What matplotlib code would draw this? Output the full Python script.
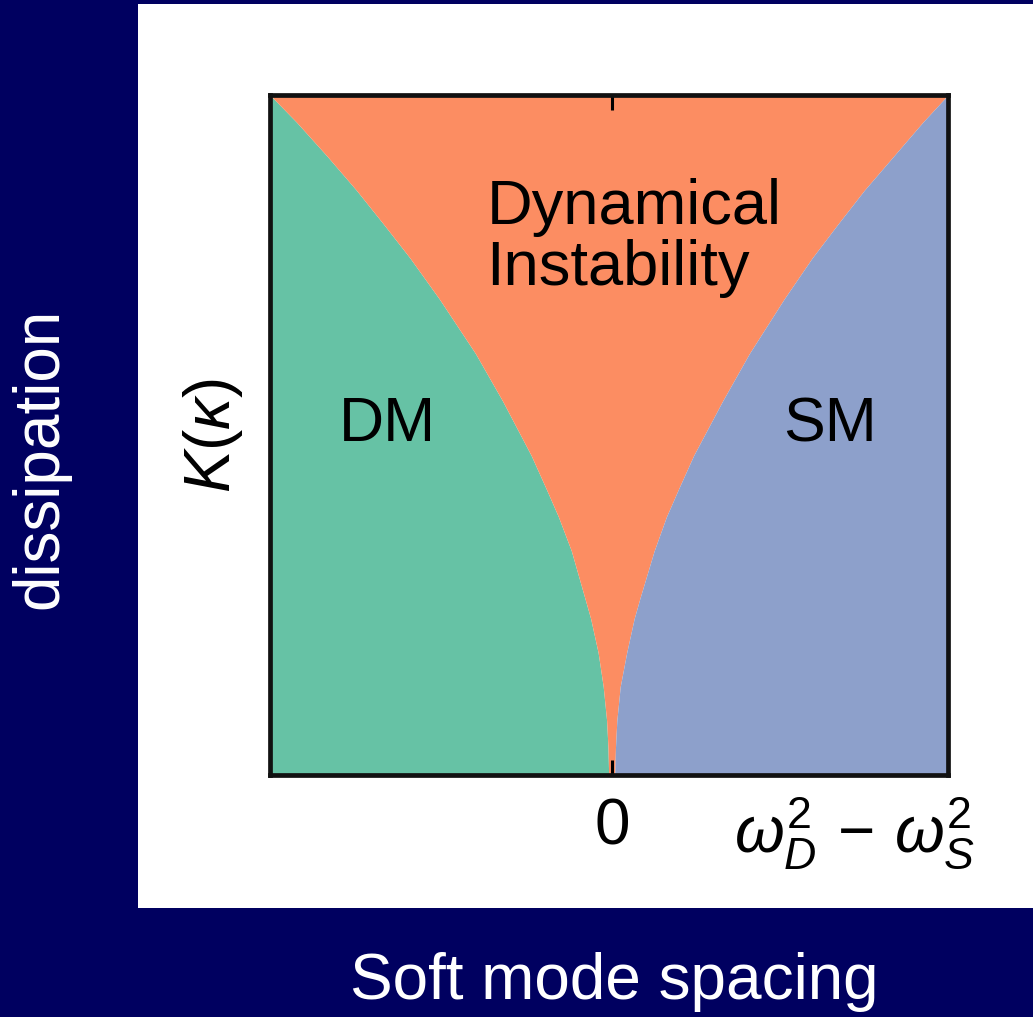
"""
Phase diagram: dissipation vs. soft mode spacing, with the dynamical
instability wedge between the DM and SM regions.
"""
import matplotlib
matplotlib.use("Agg")
import numpy as np
from matplotlib import pyplot as plt
from matplotlib.patches import Rectangle

plt.rcParams['font.family'] = ['Liberation Sans', 'DejaVu Sans']
plt.rcParams['mathtext.fontset'] = 'custom'
plt.rcParams['mathtext.it'] = 'Liberation Sans:italic'
plt.rcParams['mathtext.rm'] = 'Liberation Sans'

# phase boundaries, read as (dissipation, spacing) pairs
kappa = [0.00, 0.04, 0.08, 0.13, 0.18, 0.23, 0.26, 0.33, 0.38, 0.42,
         0.47, 0.55, 0.62, 0.70, 0.76, 0.81, 0.86, 0.91, 0.96, 1.00]
dm_edge = [-0.010, -0.012, -0.016, -0.026, -0.041, -0.063, -0.080, -0.120,
           -0.158, -0.193, -0.238, -0.322, -0.402, -0.508, -0.594, -0.672,
           -0.752, -0.838, -0.928, -1.006]
sm_edge = [0.008, 0.010, 0.014, 0.024, 0.043, 0.065, 0.082, 0.124,
           0.160, 0.195, 0.240, 0.325, 0.404, 0.506, 0.588, 0.664,
           0.742, 0.828, 0.914, 0.988]

x_lim = (-1.006, 0.988)
phase_names = ["DM", "Dynamical\nInstability", "SM"]
phase_colors = ["#66c2a5", "#fc8d62", "#8da0cb"]

W, H = 1033, 1017
fig = plt.figure(figsize=(W / 100, H / 100), dpi=100)
fig.patch.set_facecolor("#000060")

# white panel behind the diagram
fig.patches.append(Rectangle((138 / W, 1 - 908 / H), 1 - 138 / W, (908 - 4) / H,
                             transform=fig.transFigure, facecolor="white",
                             edgecolor="none", zorder=-1))

ax = fig.add_axes([270 / W, 1 - 775 / H, (948 - 270) / W, (775 - 95) / H])
ax.set_zorder(1)
kappa = np.array(kappa)
ax.fill_betweenx(kappa, x_lim[0], dm_edge, color=phase_colors[0], lw=0)
ax.fill_betweenx(kappa, dm_edge, sm_edge, color=phase_colors[1], lw=0)
ax.fill_betweenx(kappa, sm_edge, x_lim[1], color=phase_colors[2], lw=0)
ax.set_xlim(*x_lim)
ax.set_ylim(0, 1)

for s in ax.spines.values():
    s.set_linewidth(3.4)
    s.set_color("#111111")

ax.set_xticks([0])
ax.set_xticklabels(["0"])
ax.set_yticks([])
ax.tick_params(axis="x", direction="in", top=True, bottom=True,
               length=11, width=2.2, labelsize=46, pad=16)

ax.text(-0.66, 0.515, phase_names[0], fontsize=45, ha="center", va="center")
ax.text(-0.37, 0.79, phase_names[1], fontsize=45.5, ha="left", va="center",
        linespacing=1.05)
ax.text(0.64, 0.515, phase_names[2], fontsize=45, ha="center", va="center")

ax.text(1.04, -0.085, r"$\omega_D^2\,-\,\omega_S^2$", transform=ax.transAxes,
        fontsize=46, ha="right", va="center")
ax.text(-0.084, 0.5, r"$K(\kappa)$", transform=ax.transAxes, fontsize=46,
        rotation=90, ha="center", va="center")

fig.text(40 / W, 1 - 458 / H, "dissipation", color="white", fontsize=46,
         rotation=90, ha="center", va="center")
fig.text(614 / W, 1 - 982 / H, "Soft mode spacing", color="white",
         fontsize=46, ha="center", va="center")

fig.savefig("out.png", dpi=100, facecolor=fig.get_facecolor())
